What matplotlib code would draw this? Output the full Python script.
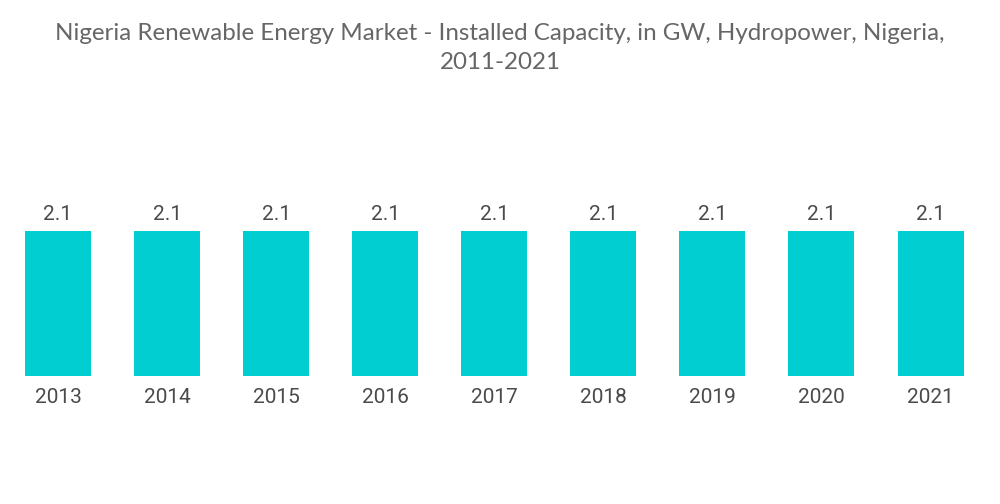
import matplotlib
matplotlib.use("Agg")
import matplotlib.pyplot as plt
import numpy as np

# data
years = ["2013", "2014", "2015", "2016", "2017", "2018", "2019", "2020", "2021"]
capacity = [2.1, 2.1, 2.1, 2.1, 2.1, 2.1, 2.1, 2.1, 2.1]

bar_color = "#00CED1"
text_color = "#4a4a4a"

fig = plt.figure(figsize=(10, 5.04), dpi=100)
ax = fig.add_axes([0.0, 0.254, 1.0, 0.411])

x = np.arange(len(years))
bars = ax.bar(x, capacity, width=0.605, color=bar_color)

for xi, v in zip(x, capacity):
    ax.text(xi, v + 0.1, f"{v}", ha="center", va="bottom",
            fontsize=15, color=text_color, family="Roboto")

ax.set_xlim(-0.532, 8.637)
ax.set_ylim(0, 3)
ax.set_xticks(x)
ax.set_xticklabels(years, fontsize=15, color=text_color, family="Roboto")
ax.tick_params(axis="x", length=0, pad=9)
ax.set_yticks([])
for s in ax.spines.values():
    s.set_visible(False)

fig.text(0.5, 0.955, "Nigeria Renewable Energy Market - Installed Capacity, in GW, Hydropower, Nigeria,\n2011-2021",
         ha="center", va="top", fontsize=17.4, color="#666666", family="Lato", linespacing=1.5)

fig.savefig("out.png", dpi=100)
